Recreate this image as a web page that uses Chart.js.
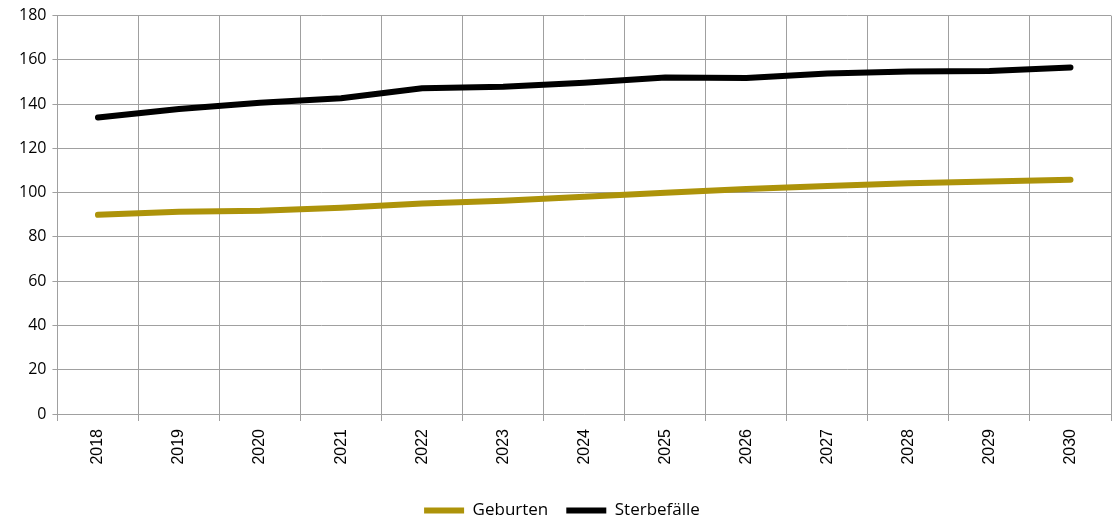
<!DOCTYPE html>
<html>
<head>
<meta charset="utf-8">
<script src="https://cdn.jsdelivr.net/npm/chart.js@4"></script>
<style>
  html, body { margin: 0; padding: 0; background: #fff; }
  #wrap { width: 1115px; height: 522px; }
</style>
</head>
<body>
<div id="wrap"><canvas id="chart"></canvas></div>
<script>
const years = ["2018", "2019", "2020", "2021", "2022", "2023", "2024", "2025", "2026", "2027", "2028", "2029", "2030"];
const geburten = [90, 91.4, 91.8, 93.2, 95.1, 96.4, 98.2, 100, 101.7, 103, 104.3, 105, 105.8];
const sterbefaelle = [134, 137.8, 140.6, 142.7, 147.2, 147.8, 149.7, 152, 151.8, 153.8, 154.7, 155, 156.6];
const yTicks = [0, 20, 40, 60, 80, 100, 120, 140, 160, 180];

const gridColor = "#a0a0a0";

const drawChart = () => {
  let ctx = document.getElementById("chart").getContext("2d");
  let myChart = new Chart(ctx, {
    type: "line",
    data: {
      labels: years,
      datasets: [
        {
          label: "Geburten",
          data: geburten,
          borderColor: "#ad930a",
          backgroundColor: "#ad930a",
          borderWidth: 6,
          borderCapStyle: "round",
          borderJoinStyle: "round",
          pointRadius: 0,
          tension: 0,
        },
        {
          label: "Sterbefälle",
          data: sterbefaelle,
          borderColor: "#000000",
          backgroundColor: "#000000",
          borderWidth: 6,
          borderCapStyle: "round",
          borderJoinStyle: "round",
          pointRadius: 0,
          tension: 0,
        },
      ],
    },
    options: {
      responsive: true,
      maintainAspectRatio: false,
      animation: false,
      layout: {
        padding: { top: 0, right: 4, bottom: -7, left: 13 },
      },
      plugins: {
        legend: {
          position: "bottom",
          labels: {
            usePointStyle: true,
            pointStyle: "line",
            pointStyleWidth: 40,
            boxHeight: 17,
            padding: 18,
            color: "#000",
            font: { family: "Open Sans", size: 17 },
          },
        },
        tooltip: { enabled: false },
      },
      scales: {
        x: {
          offset: true,
          afterFit: (scale) => {
            scale.height = 70;
          },
          grid: {
            offset: true,
            color: gridColor,
            tickLength: 7,
            lineWidth: 1,
          },
          border: { color: gridColor },
          ticks: {
            minRotation: 90,
            maxRotation: 90,
            padding: 8,
            color: "#000",
            font: { family: "Liberation Sans", size: 16 },
          },
        },
        y: {
          min: 0,
          max: 180,
          afterBuildTicks: (axis) => {
            axis.ticks = yTicks.map((v) => ({ value: v }));
          },
          grid: {
            color: gridColor,
            tickLength: 5,
          },
          border: { color: gridColor },
          ticks: {
            padding: 6,
            color: "#000",
            font: { family: "Open Sans", size: 16 },
          },
        },
      },
    },
  });
};

drawChart();
</script>
</body>
</html>
